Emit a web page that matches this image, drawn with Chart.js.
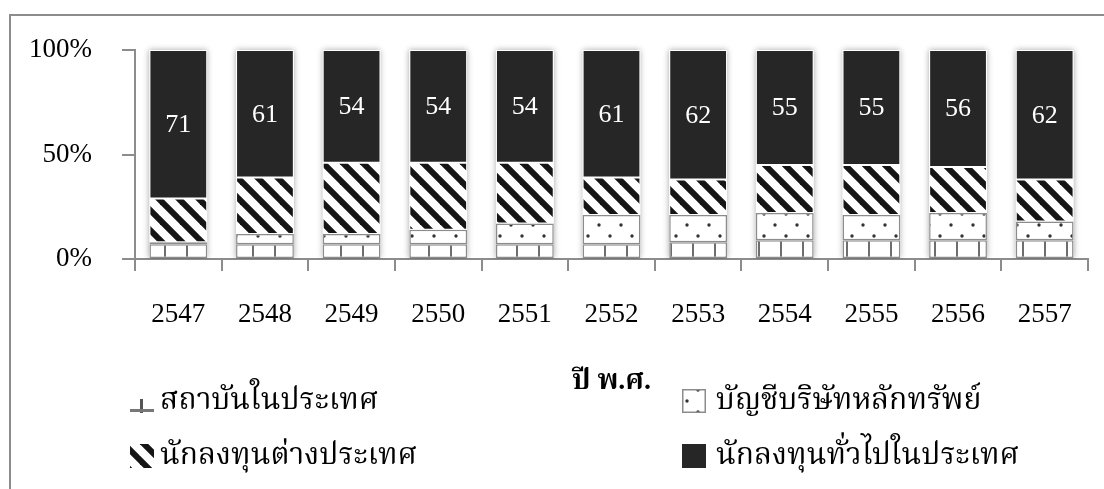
<!DOCTYPE html>
<html>
<head>
<meta charset="utf-8">
<title>สัดส่วนมูลค่าการซื้อขายตามประเภทผู้ลงทุน</title>
<script src="https://cdn.jsdelivr.net/npm/chart.js@4.4.0/dist/chart.umd.min.js"></script>
<style>
  html, body { margin: 0; padding: 0; background: #fff; }
  canvas { display: block; }
</style>
</head>
<body>
<canvas id="investorChart" width="1104" height="489"></canvas>
<script>
// ปี พ.ศ. และสัดส่วน (%) ของผู้ลงทุนแต่ละประเภท
const years = ['2547', '2548', '2549', '2550', '2551', '2552', '2553', '2554', '2555', '2556', '2557'];
const institutional = [7, 7, 7, 7, 7, 7, 8, 9, 9, 9, 9];
const brokerAccounts = [1, 5, 5, 7, 10, 14, 13, 13, 12, 13, 9];
const foreignInvestors = [21, 27, 34, 32, 29, 18, 17, 23, 24, 22, 20];
const localInvestors = [71, 61, 54, 54, 54, 61, 62, 55, 55, 56, 62];
const yTicks = [0, 50, 100];

const seriesNames = ['สถาบันในประเทศ', 'บัญชีบริษัทหลักทรัพย์', 'นักลงทุนต่างประเทศ', 'นักลงทุนทั่วไปในประเทศ'];

const SERIF = '"Liberation Serif", "Times New Roman", "Noto Serif Thai", Norasi, Kinnari, Laksaman, serif';
const AXIS_GRAY = '#8c8c8c';
const DARK = '#262626';

function makeTile(w, h, paint) {
  const c = document.createElement('canvas');
  c.width = w;
  c.height = h;
  const g = c.getContext('2d');
  g.fillStyle = '#fff';
  g.fillRect(0, 0, w, h);
  paint(g);
  return c;
}

// เส้นทแยง \ สำหรับนักลงทุนต่างประเทศ
const stripeTile = makeTile(20, 20, g => {
  g.strokeStyle = '#151515';
  g.lineWidth = 6;
  [-20, 0, 20].forEach(k => {
    g.beginPath();
    g.moveTo(k - 5, -5);
    g.lineTo(k + 25, 25);
    g.stroke();
  });
});

// จุดเล็ก ๆ สลับแถว สำหรับบัญชีบริษัทหลักทรัพย์
const dotTile = makeTile(22, 22, g => {
  g.fillStyle = '#333';
  [[5, 5], [16, 16]].forEach(([x, y]) => {
    g.beginPath();
    g.arc(x, y, 1.7, 0, Math.PI * 2);
    g.fill();
  });
});

// เส้นตั้งห่าง ๆ สำหรับสถาบันในประเทศ
const gridTile = makeTile(22, 22, g => {
  g.fillStyle = '#6e6e6e';
  g.fillRect(10, 0, 2, 22);
});

const ctx = document.getElementById('investorChart').getContext('2d');
const stripes = ctx.createPattern(stripeTile, 'repeat');
const dots = ctx.createPattern(dotTile, 'repeat');
const grid = ctx.createPattern(gridTile, 'repeat');

// กรอบพื้นที่แผนภูมิ
const chartFrame = {
  id: 'chartFrame',
  beforeDraw(chart) {
    const c = chart.ctx;
    c.save();
    c.strokeStyle = AXIS_GRAY;
    c.lineWidth = 2;
    c.strokeRect(10, 15, chart.width + 40, chart.height + 40);
    c.restore();
  }
};

// เงาจาง ๆ รอบแท่ง
const barShadow = {
  id: 'barShadow',
  beforeDatasetsDraw(chart) {
    const c = chart.ctx;
    const area = chart.chartArea;
    const bottomBars = chart.getDatasetMeta(0).data;
    const topBars = chart.getDatasetMeta(chart.data.datasets.length - 1).data;
    c.save();
    c.beginPath();
    c.rect(area.left, area.top - 10, area.right - area.left, area.bottom - area.top + 10);
    c.clip();
    c.shadowColor = 'rgba(0, 0, 0, 0.35)';
    c.shadowBlur = 6;
    c.fillStyle = '#fff';
    bottomBars.forEach((bar, i) => {
      const top = topBars[i].y;
      c.fillRect(bar.x - bar.width / 2, top, bar.width, bar.base - top);
    });
    c.restore();
  }
};

// ตัวเลขในแท่งสีดำ
const segmentLabels = {
  id: 'segmentLabels',
  afterDatasetsDraw(chart) {
    const idx = 3;
    const c = chart.ctx;
    const values = chart.data.datasets[idx].data;
    c.save();
    c.font = '26px ' + SERIF;
    c.fillStyle = '#fff';
    c.textAlign = 'center';
    c.textBaseline = 'middle';
    chart.getDatasetMeta(idx).data.forEach((bar, i) => {
      c.fillText(String(values[i]), bar.x, (bar.y + bar.base) / 2 + 1);
    });
    c.restore();
  }
};

// คำอธิบายสัญลักษณ์แบบ 2 คอลัมน์
const legendSlots = [
  { x: 130, y: 389, tx: 160 },
  { x: 682, y: 389, tx: 716 },
  { x: 130, y: 444, tx: 160 },
  { x: 682, y: 444, tx: 716 }
];
const gridLegend = {
  id: 'gridLegend',
  afterDraw(chart) {
    const c = chart.ctx;
    const size = 24;
    c.save();
    c.font = '30px ' + SERIF;
    c.textBaseline = 'middle';
    chart.data.datasets.forEach((ds, i) => {
      const s = legendSlots[i];
      if (i === 0) {
        // สัญลักษณ์ ┴ ของสถาบันในประเทศ
        c.fillStyle = '#555';
        c.fillRect(s.x + 10, s.y + 10, 3, 14);
        c.fillStyle = '#777';
        c.fillRect(s.x, s.y + 20, size, 3);
      } else {
        c.fillStyle = ds.backgroundColor;
        c.fillRect(s.x, s.y, size, size);
        if (ds.borderColor !== '#ffffff') {
          c.strokeStyle = ds.borderColor;
          c.lineWidth = 1.5;
          c.strokeRect(s.x + 0.75, s.y + 0.75, size - 1.5, size - 1.5);
        }
      }
      c.fillStyle = '#000';
      c.fillText(ds.label, s.tx, s.y + size / 2);
    });
    c.restore();
  }
};

new Chart(ctx, {
  type: 'bar',
  data: {
    labels: years,
    datasets: [
      { label: seriesNames[0], data: institutional, backgroundColor: grid, borderColor: AXIS_GRAY, borderWidth: 1.5 },
      { label: seriesNames[1], data: brokerAccounts, backgroundColor: dots, borderColor: AXIS_GRAY, borderWidth: 1.5 },
      { label: seriesNames[2], data: foreignInvestors, backgroundColor: stripes, borderColor: '#ffffff', borderWidth: 1 },
      { label: seriesNames[3], data: localInvestors, backgroundColor: DARK, borderColor: '#ffffff', borderWidth: 1 }
    ]
  },
  options: {
    responsive: false,
    animation: false,
    layout: { padding: { left: 28, right: 16, top: 50, bottom: 90 } },
    datasets: {
      bar: { categoryPercentage: 1, barPercentage: 0.667, borderSkipped: false }
    },
    scales: {
      x: {
        stacked: true,
        grid: { offset: true, drawOnChartArea: false, tickLength: 12, color: AXIS_GRAY, lineWidth: 2 },
        border: { color: AXIS_GRAY, width: 2 },
        ticks: { color: '#000', font: { family: SERIF, size: 27 }, padding: 28 },
        title: {
          display: true,
          text: 'ปี พ.ศ.',
          color: '#000',
          font: { family: SERIF, size: 28, weight: 'bold' },
          padding: { top: 0, bottom: 0 }
        },
        afterFit(scale) { scale.height = 140; }
      },
      y: {
        stacked: true,
        min: 0,
        max: 100,
        afterBuildTicks(scale) { scale.ticks = yTicks.map(v => ({ value: v })); },
        afterFit(scale) { scale.width = 107; },
        grid: { drawOnChartArea: false, tickLength: 13, color: AXIS_GRAY, lineWidth: 2 },
        border: { color: AXIS_GRAY, width: 2 },
        ticks: { color: '#000', font: { family: SERIF, size: 27 }, padding: 30, callback: v => v + '%' }
      }
    },
    plugins: {
      legend: { display: false },
      tooltip: { enabled: false }
    }
  },
  plugins: [chartFrame, barShadow, segmentLabels, gridLegend]
});
</script>
</body>
</html>
